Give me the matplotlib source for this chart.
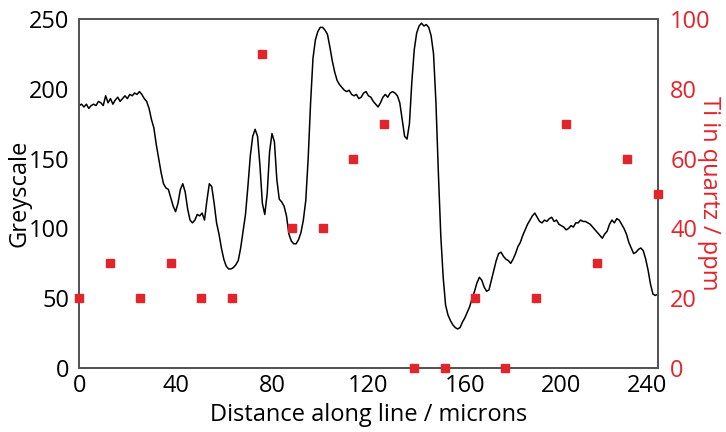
import numpy as np
import matplotlib
matplotlib.use("Agg")
import matplotlib.pyplot as plt
import matplotlib.transforms as mtransforms

plt.rcParams['font.family'] = ['Open Sans', 'DejaVu Sans']

# greyscale profile, one reading per micron (0..240)
distance = list(range(0, 241))
greyscale = [
    188, 189, 187, 189, 186, 188, 189, 188, 191, 190,
    188, 195, 190, 193, 189, 192, 194, 191, 193, 195,
    193, 196, 195, 197, 196, 198, 196, 193, 191, 186,
    178, 172, 160, 150, 140, 132, 129, 128, 122, 116,
    112, 118, 128, 132, 126, 114, 106, 104, 106, 110,
    109, 111, 106, 120, 132, 130, 118, 104, 96, 86,
    78, 73, 71, 71, 72, 74, 77, 86, 98, 110,
    130, 152, 166, 171, 166, 145, 118, 110, 125, 155,
    168, 162, 135, 121, 119, 116, 109, 96, 91, 89,
    89, 92, 97, 106, 120, 150, 190, 222, 235, 241,
    244, 244, 242, 239, 230, 220, 212, 206, 203, 201,
    199, 198, 199, 196, 195, 196, 193, 194, 197, 198,
    195, 194, 191, 189, 187, 190, 194, 196, 194, 197,
    198, 197, 195, 190, 178, 166, 164, 175, 205, 228,
    240, 245, 247, 245, 246, 244, 238, 225, 190, 140,
    95, 65, 45, 38, 34, 31, 29, 28, 29, 33,
    36, 40, 44, 50, 55, 61, 65, 63, 58, 55,
    56, 63, 70, 77, 82, 83, 80, 78, 77, 75,
    78, 82, 87, 90, 95, 99, 103, 106, 109, 111,
    108, 105, 104, 106, 105, 107, 108, 105, 106, 103,
    102, 101, 99, 100, 102, 101, 104, 104, 106, 105,
    105, 104, 103, 101, 99, 97, 95, 93, 96, 98,
    103, 106, 104, 107, 106, 103, 100, 96, 90, 86,
    82, 83, 85, 86, 84, 78, 70, 60, 53, 52,
    53,
]

# Ti in quartz measurements
ti_distance = [0, 12.6, 25.3, 37.9, 50.5, 63.2, 75.8, 88.4, 101.1, 113.7,
               126.3, 138.9, 151.6, 164.2, 176.8, 189.5, 202.1, 214.7, 227.4, 240]
ti_ppm = [20, 30, 20, 30, 20, 20, 90, 40, 40, 60,
          70, 0, 0, 20, 0, 20, 70, 30, 60, 50]

red = '#e2242b'
spine_col = '#555555'

fig = plt.figure(figsize=(7.26, 4.32), dpi=100)
ax = fig.add_axes([0.109, 0.148, 0.797, 0.808])
ax2 = ax.twinx()

ax.plot(distance, greyscale, color='black', lw=1.1, zorder=3)
ax2.plot(ti_distance, ti_ppm, 's', color=red, ms=5.5, clip_on=False, zorder=5)

ax.set_xlim(0, 240)
ax.set_ylim(0, 250)
ax2.set_ylim(0, 100)
ax.set_xticks(np.arange(0, 241, 40))
ax.set_yticks(np.arange(0, 251, 50))
ax2.set_yticks(np.arange(0, 101, 20))

ax.tick_params(axis='x', length=0, pad=4, labelsize=17)
ax.tick_params(axis='y', length=0, pad=7, labelsize=17)
ax2.tick_params(axis='y', length=0, pad=9, labelsize=17, labelcolor=red)

# nudge "240" left so it doesn't run into the red 0
last = ax.get_xticklabels()[-1]
last.set_transform(last.get_transform() +
                   mtransforms.ScaledTranslation(-11 / 100, 0, fig.dpi_scale_trans))

for a in (ax, ax2):
    for s in a.spines.values():
        s.set_color(spine_col)
        s.set_linewidth(1.4)

ax.set_xlabel('Distance along line / microns', fontsize=17, labelpad=4)
ax.set_ylabel('Greyscale', fontsize=17, labelpad=-2)
# right label sits close in, below the top tick label
ax.text(1.088, 0.5, 'Ti in quartz / ppm', transform=ax.transAxes, fontsize=17,
        color=red, rotation=270, ha='center', va='center')

fig.savefig('out.png', dpi=100)
